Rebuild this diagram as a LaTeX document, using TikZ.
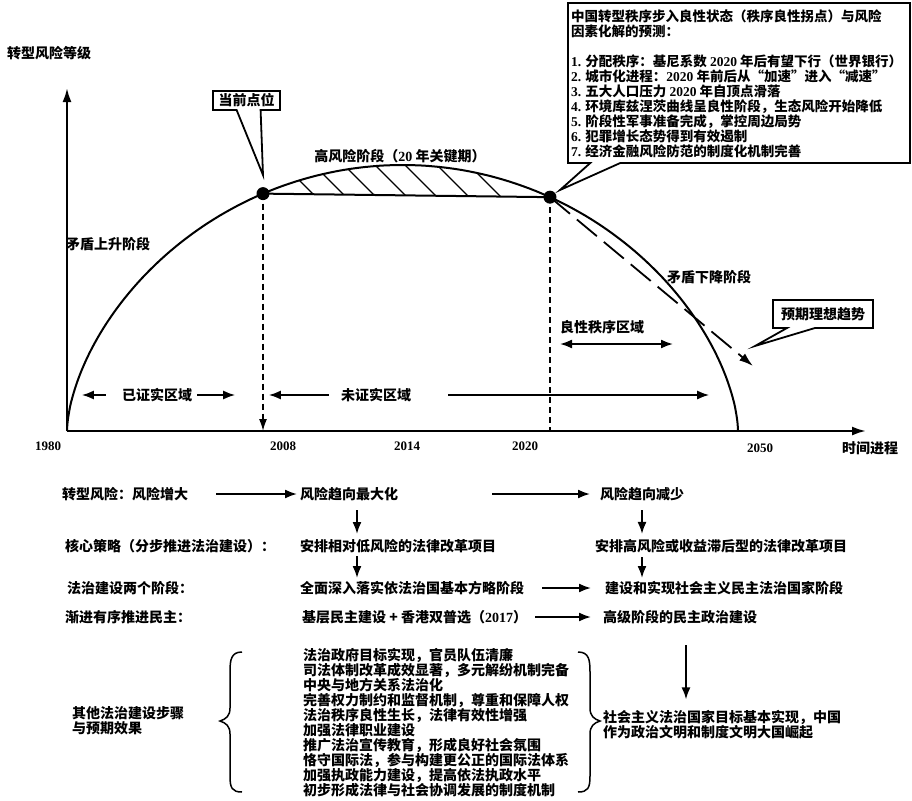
\documentclass[tikz,border=0pt]{standalone}
\usepackage{fontspec}
\newfontfamily\cjk{Noto Sans CJK SC}
\newfontfamily\latf{Liberation Serif}
\newcommand\dg[1]{{\latf\bfseries #1}}
\usetikzlibrary{arrows.meta,shapes.callouts}
\begin{document}
\begin{tikzpicture}[x=1pt,y=-1pt,
  every node/.style={font=\cjk\bfseries\fontsize{14}{15}\selectfont, inner sep=0pt},
  yr/.style={font=\latf\bfseries\fontsize{13}{15}\selectfont},
  axisl/.style={line width=2.2pt, -{Latex[length=14pt,width=9pt]}},
  curvel/.style={line width=2pt},
  arr/.style={line width=1.8pt, -{Latex[length=12pt,width=9pt]}},
  dbl/.style={line width=1.8pt, {Latex[length=12pt,width=9pt]}-{Latex[length=12pt,width=9pt]}},
  vdash/.style={line width=1.6pt, dash pattern=on 6pt off 4pt},
  dotn/.style={circle, fill=black, minimum size=13pt},
  callbox/.style={rectangle callout, draw, line width=1.8pt, fill=white},
  tl/.style={anchor=west},
  bracel/.style={line width=1.5pt},
]
\useasboundingbox (0,0) rectangle (912,800);

% axes
\coordinate (o) at (67,431);
\coordinate (xe) at (866,431);
\coordinate (ye) at (67,88);
\draw[axisl] (o) -- (xe);
\draw[axisl] (o) -- (ye);
\node (ylab) at (49,53) {转型风险等级};

% curve
\draw[curvel] (o) -- plot[domain=0.5:179.5, samples=150, variable=\t]
  ({402.5-335.5*cos(\t)}, {431-266*pow(sin(\t),1.2)}) -- (738,431);

% hatch region
\begin{scope}
  \clip plot[domain=65.43:116.08, samples=60, variable=\t]
    ({402.5-335.5*cos(\t)}, {431-266*pow(sin(\t),1.2)}) -- cycle;
  \foreach \xb in {317,347,377,408,438,470,502}
    \draw[line width=1.3pt] (\xb,198) -- ++(-50,-50);
\end{scope}

\path ({402.5-335.5*cos(65.43)}, {431-266*pow(sin(65.43),1.2)}) coordinate (curc);
\path ({402.5-335.5*cos(116.08)}, {431-266*pow(sin(116.08),1.2)}) coordinate (tpc);
\draw[curvel] (curc) -- (tpc);

% verticals
\draw[vdash, -{Latex[length=12pt,width=8pt]}] (curc) -- (curc |- o);
\draw[vdash] (tpc) -- (tpc |- o);

% trend arrow
\coordinate (te) at (753,366);
\draw[line width=1.8pt, dash pattern=on 26pt off 9pt, -{Latex[length=14pt,width=9pt]}] (tpc) -- (te);

\node[dotn] (cur) at (curc) {};
\node[dotn] (tp) at (tpc) {};

% year labels
\node[yr] (y1980) at (48,446) {1980};
\node[yr] (y2008) at (283,446) {2008};
\node[yr] (y2014) at (407,446) {2014};
\node[yr] (y2020) at (525,446) {2020};
\node[yr] (y2050) at (760,448) {2050};
\node (tlab) at (870,448) {时间进程};

% chart labels
\node (up) at (108,244) {矛盾上升阶段};
\node (hr) at (400,156) {高风险阶段（\dg{20} 年关键期）};
\node (down) at (709,277) {矛盾下降阶段};
\node (good) at (602,327) {良性秩序区域};
\coordinate (g1) at (560,344);
\coordinate (g2) at (673,344);
\draw[dbl] (g1) -- (g2);

\node (yz) at (157,395) {已证实区域};
\draw[arr] ([xshift=-16pt]yz.west) -- ([xshift=-40pt]yz.west);
\draw[arr] ([xshift=5pt]yz.east) -- ([xshift=43pt]yz.east);
\node (wz) at (376,395) {未证实区域};
\draw[arr] ([xshift=-12pt]wz.west) -- ([xshift=-72pt]wz.west);
\draw[arr] ([xshift=37pt]wz.east) -- ([xshift=298pt]wz.east);

% callouts
\node[callbox, minimum width=67pt, minimum height=19pt,
  callout absolute pointer={(263,175)}, callout pointer width=24pt] (cp) at (246.5,100.5) {当前点位};
\node[callbox, minimum width=100pt, minimum height=28pt,
  callout absolute pointer={(755,346)}, callout pointer width=28pt] (ideal) at (823,314) {预期理想趋势};
\node[callbox, minimum width=342pt, minimum height=160pt,
  callout absolute pointer={(560,190)}, callout pointer width=30pt] (pb) at (739,83) {};
\node[anchor=north west, align=left, font=\cjk\bfseries\fontsize{13.5}{15}\selectfont] (pbt) at (571,10) {中国转型秩序步入良性状态（秩序良性拐点）与风险\\
因素化解的预测：\\[15pt]
\dg{1.} 分配秩序：基尼系数 \dg{2020} 年后有望下行（世界银行）\\
\dg{2.} 城市化进程：\dg{2020} 年前后从“加速”进入“减速”\\
\dg{3.} 五大人口压力 \dg{2020} 年自顶点滑落\\
\dg{4.} 环境库兹涅茨曲线呈良性阶段，生态风险开始降低\\
\dg{5.} 阶段性军事准备完成，掌控周边局势\\
\dg{6.} 犯罪增长态势得到有效遏制\\
\dg{7.} 经济金融风险防范的制度化机制完善};

% bottom rows
\coordinate (colL) at (357,0);
\coordinate (colR) at (642,0);
\coordinate (colB) at (686,0);

\node[tl] (r1a) at (62,494) {转型风险：风险增大};
\node[tl] (r1b) at (300,494) {风险趋向最大化};
\node[tl] (r1c) at (600,494) {风险趋向减少};
\draw[arr, shorten <=28pt, shorten >=3pt] (r1a) -- (r1b);
\draw[arr, shorten <=94pt, shorten >=10pt] (r1b) -- (r1c);

\node[tl] (r2a) at (65,546) {核心策略（分步推进法治建设）：};
\node[tl] (r2b) at (300,546) {安排相对低风险的法律改革项目};
\node[tl] (r2c) at (595,546) {安排高风险或收益滞后型的法律改革项目};
\draw[arr, shorten <=9pt, shorten >=5pt] (r1b.south -| colL) -- (r2b.north -| colL);
\draw[arr, shorten <=9pt, shorten >=5pt] (r1c.south -| colR) -- (r2c.north -| colR);

\node[tl] (r3a) at (67,588) {法治建设两个阶段：};
\node[tl] (r3b) at (300,588) {全面深入落实依法治国基本方略阶段};
\node[tl] (r3c) at (605,588) {建设和实现社会主义民主法治国家阶段};
\draw[arr, shorten <=3pt, shorten >=3pt] (r2b.south -| colL) -- (r3b.north -| colL);
\draw[arr, shorten <=4pt, shorten >=3pt] (r2c.south -| colR) -- (r3c.north -| colR);
\draw[arr, shorten <=18pt, shorten >=14pt] (r3b) -- (r3c);

\node[tl] (r4a) at (65,617) {渐进有序推进民主：};
\node[tl] (r4b) at (302,617) {基层民主建设 + 香港双普选（\dg{2017}）};
\node[tl] (r4c) at (603,617) {高级阶段的民主政治建设};
\draw[arr, shorten <=8pt, shorten >=12pt] (r4b) -- (r4c);

% other steps
\node[anchor=west, align=left] (oth) at (72,720.5) {其他法治建设步骤\\与预期效果};
\node[anchor=north west, align=left] (lst) at (303,648) {法治政府目标实现，官员队伍清廉\\
司法体制改革成效显著，多元解纷机制完备\\
中央与地方关系法治化\\
完善权力制约和监督机制，尊重和保障人权\\
法治秩序良性生长，法律有效性增强\\
加强法律职业建设\\
推广法治宣传教育，形成良好社会氛围\\
恪守国际法，参与构建更公正的国际法体系\\
加强执政能力建设，提高依法执政水平\\
初步形成法律与社会协调发展的制度机制};
\node[anchor=west, align=left] (fin) at (603,725) {社会主义法治国家目标基本实现，中国\\作为政治文明和制度文明大国崛起};
\draw[arr, shorten <=21pt, shorten >=11pt] (r4c.south -| colB) -- (fin.north -| colB);

% braces
\draw[bracel] (242,652) .. controls (231,652) and (230,660) .. (230,672) -- (230,708)
  .. controls (230,716) and (226,719) .. (220,721) .. controls (226,723) and (230,726) .. (230,734)
  -- (230,776) .. controls (230,788) and (232,792) .. (242,792);
\draw[bracel] (578,652) .. controls (589,652) and (590,660) .. (590,672) -- (590,708)
  .. controls (590,716) and (594,719) .. (600,721) .. controls (594,723) and (590,726) .. (590,734)
  -- (590,776) .. controls (590,788) and (588,792) .. (578,792);
\end{tikzpicture}
\end{document}
